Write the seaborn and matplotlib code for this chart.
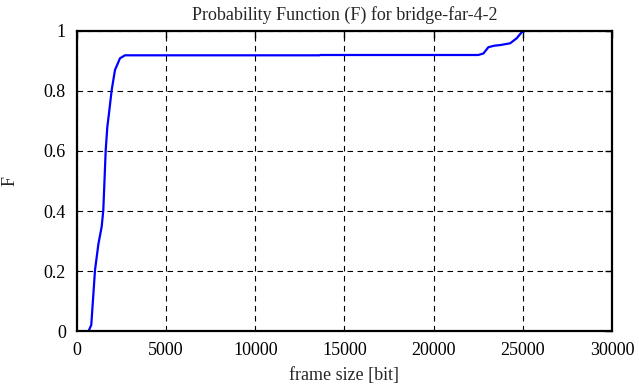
import matplotlib
matplotlib.use("Agg")
import matplotlib.pyplot as plt
import seaborn as sns
import pandas as pd

# CDF
frame_size = [650, 800, 1010, 1200, 1385, 1475, 1610, 1700, 1795, 1945, 2130, 2410, 2690,
              13600, 13650, 22500, 22790, 23070, 23400, 23720, 24290, 24660, 24940, 25125]
prob_f = [0.0, 0.02, 0.203, 0.29, 0.348, 0.403, 0.603, 0.68, 0.726, 0.803, 0.87, 0.909, 0.919,
          0.919, 0.92, 0.92, 0.925, 0.946, 0.951, 0.953, 0.959, 0.976, 0.996, 1.0]

x_ticks = [0, 5000, 10000, 15000, 20000, 25000, 30000]
y_ticks = [0, 0.2, 0.4, 0.6, 0.8, 1]
y_labels = ["0", "0.2", "0.4", "0.6", "0.8", "1"]

df = pd.DataFrame({"frame size [bit]": frame_size, "F": prob_f})

sns.set_style("white")
plt.rcParams["font.family"] = ["Liberation Serif", "DejaVu Serif"]

fig = plt.figure(figsize=(6.39, 3.87), dpi=100)
ax = fig.add_axes([0.1205, 0.1447, 0.8372, 0.7752])

sns.lineplot(data=df, x="frame size [bit]", y="F", color="#0000ff", linewidth=1.6, ax=ax)

ax.set_xlim(0, 30000)
ax.set_ylim(0, 1)
ax.set_xticks(x_ticks)
ax.set_xticklabels([str(t) for t in x_ticks])
ax.set_yticks(y_ticks)
ax.set_yticklabels(y_labels)
ax.grid(True, color="black", linestyle=(0, (5, 4)), linewidth=0.8)
ax.tick_params(direction="in", length=5, width=1, top=True, right=True,
               labelsize=13, colors="black", pad=8)
for s in ax.spines.values():
    s.set_linewidth(1.6)
    s.set_color("black")
    s.set_visible(True)

ax.set_xlabel("frame size [bit]", fontsize=13, labelpad=6)
ax.set_ylabel("F", fontsize=13, labelpad=18)
ax.set_title("Probability Function (F) for bridge-far-4-2", fontsize=13, pad=8)

fig.savefig("out.png", dpi=100)
